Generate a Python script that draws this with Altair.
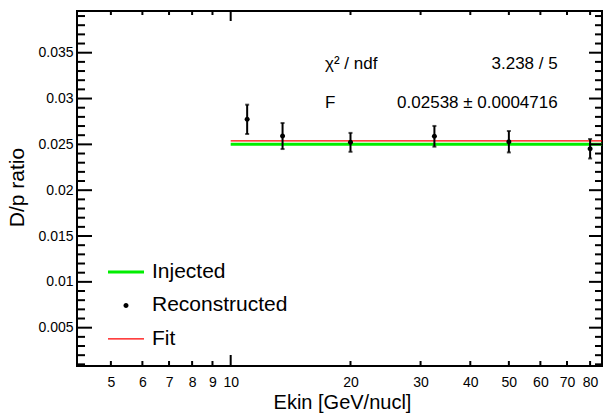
import altair as alt
import pandas as pd

# ---- data ----
ekin = [11.0, 13.5, 20.0, 32.5, 50.0, 80.0]
ratio = [0.02773, 0.02591, 0.02522, 0.02588, 0.02529, 0.02452]
err = [0.00160, 0.00142, 0.00103, 0.00113, 0.00117, 0.00106]

injected_value = 0.025
fit_value = 0.02538
fit_range = [10.0, 86.0]

series_names = ["Injected", "Reconstructed", "Fit"]
series_colors = ["#00ee00", "#000000", "#ff0000"]

stat_names = ["χ² / ndf", "F"]
stat_values = ["3.238 / 5", "0.02538 ± 0.0004716"]

x_labels = [5, 6, 7, 8, 9, 10, 20, 30, 40, 50, 60, 70, 80]
x_ticks_short = [5, 6, 7, 8, 9, 20, 30, 40, 50, 60, 70, 80]
x_ticks_long = [10]
y_major = [0.005, 0.01, 0.015, 0.02, 0.025, 0.03, 0.035]
y_minor = [0.001, 0.002, 0.003, 0.004, 0.006, 0.007, 0.008, 0.009,
           0.011, 0.012, 0.013, 0.014, 0.016, 0.017, 0.018, 0.019,
           0.021, 0.022, 0.023, 0.024, 0.026, 0.027, 0.028, 0.029,
           0.031, 0.032, 0.033, 0.034, 0.036, 0.037, 0.038, 0.039]

x_domain = [4.11, 85.7]
y_domain = [0.00082, 0.03955]

W, H = 525, 355
FONT = "Liberation Sans"

pts = pd.DataFrame({"ekin": ekin, "ratio": ratio, "err": err})
pts["lo"] = pts["ratio"] - pts["err"]
pts["hi"] = pts["ratio"] + pts["err"]
pts["series"] = "Reconstructed"

lines = pd.DataFrame({
    "x": [fit_range[0], fit_range[0]],
    "x2": [fit_range[1], fit_range[1]],
    "y": [injected_value, fit_value],
    "series": ["Injected", "Fit"],
})

xs = alt.Scale(type="log", domain=x_domain, nice=False)
ys = alt.Scale(domain=y_domain, nice=False, zero=False)

thick = "M-1.8,-0.15H1.8V0.15H-1.8Z"
thin = "M-1.8,-0.065H1.8V0.065H-1.8Z"
circ = "M0.25,0A0.25,0.25,0,1,1,-0.25,0A0.25,0.25,0,1,1,0.25,0Z"

x_axis = alt.Axis(values=x_labels, format="d", ticks=False, tickSize=0, domain=False,
                  grid=False, labelFontSize=14, labelPadding=9, labelFlush=False,
                  labelOverlap=False, labelBound=False, labelColor="black",
                  title="Ekin [GeV/nucl]", titleFontSize=20, titleFontWeight="normal",
                  titleColor="black", titleX=265, titleY=42, titleAlign="center",
                  titleBaseline="alphabetic", titleAnchor="middle")
y_axis = alt.Axis(values=y_major, format="~g", ticks=False, tickSize=0, domain=False,
                  grid=False, labelFontSize=14, labelPadding=4, labelColor="black",
                  labelFlush=False, labelOverlap=False,
                  title="D/p ratio", titleFontSize=21, titleFontWeight="normal",
                  titleColor="black", titleX=-54, titleY=176, titleAngle=-90,
                  titleAlign="center", titleBaseline="alphabetic")


def X(field):
    return alt.X(field, scale=xs, axis=x_axis)


def Y(field):
    return alt.Y(field, scale=ys, axis=y_axis)


base_pts = alt.Chart(pts)

inj = alt.Chart(lines[lines.series == "Injected"]).mark_rule(
    color="#00ee00", strokeWidth=3, clip=True
).encode(x=X("x:Q"), x2="x2:Q", y=Y("y:Q"))

fit = alt.Chart(lines[lines.series == "Fit"]).mark_rule(
    color="#ff0000", strokeWidth=1.3, clip=True
).encode(x=X("x:Q"), x2="x2:Q", y=Y("y:Q"))

ebar = base_pts.mark_rule(color="black", strokeWidth=2).encode(
    x=X("ekin:Q"), y=Y("lo:Q"), y2="hi:Q")

cap_lo = base_pts.mark_tick(color="black", orient="horizontal", size=4, thickness=2).encode(
    x=X("ekin:Q"), y=Y("lo:Q"))
cap_hi = base_pts.mark_tick(color="black", orient="horizontal", size=4, thickness=2).encode(
    x=X("ekin:Q"), y=Y("hi:Q"))

legend = alt.Legend(title=None, orient="none", legendX=38.5, legendY=250.5,
                    labelFontSize=21, labelFont=FONT, labelColor="black",
                    labelOffset=15.5, rowPadding=11.4, padding=0,
                    symbolSize=400, symbolStrokeWidth=0, symbolOpacity=1)

points = base_pts.mark_point(filled=True, opacity=1, size=400, strokeWidth=0).encode(
    x=X("ekin:Q"),
    y=Y("ratio:Q"),
    color=alt.Color("series:N", scale=alt.Scale(domain=series_names, range=series_colors),
                    legend=legend),
    shape=alt.Shape("series:N", scale=alt.Scale(domain=series_names, range=[thick, circ, thin]),
                    legend=legend),
)


# axis ticks drawn inward (ROOT style)
def tick_layer(vals, chan, p0, p1):
    df = pd.DataFrame({"v": vals})
    c = alt.Chart(df).mark_rule(color="black", strokeWidth=2)
    if chan == "x":
        return c.encode(x=X("v:Q"), y=alt.value(p0), y2=alt.value(p1))
    return c.encode(y=Y("v:Q"), x=alt.value(p0), x2=alt.value(p1))


ticks = [
    tick_layer(x_ticks_short, "x", H, H - 5),
    tick_layer(x_ticks_long, "x", H, H - 11),
    tick_layer(x_ticks_short, "x", 0, 4),
    tick_layer(x_ticks_long, "x", 0, 10),
    tick_layer(y_major, "y", 0, 15),
    tick_layer(y_minor, "y", 0, 8),
    tick_layer(y_major, "y", W, W - 13),
    tick_layer(y_minor, "y", W, W - 7),
]


def stat_text(txt, px, py, align):
    return alt.Chart(pd.DataFrame({"t": [txt]})).mark_text(
        align=align, baseline="alphabetic", fontSize=17, font=FONT, color="black"
    ).encode(text="t:N", x=alt.value(px), y=alt.value(py))


stats = [
    stat_text(stat_names[0], 248, 58, "left"),
    stat_text(stat_values[0], 480.7, 58, "right"),
    stat_text(stat_names[1], 248, 97, "left"),
    stat_text(stat_values[1], 480.7, 97, "right"),
]

chart = alt.layer(inj, fit, ebar, cap_lo, cap_hi, points, *ticks, *stats).properties(
    width=W, height=H,
    padding={"left": 77, "top": 11, "right": 1, "bottom": 47},
    autosize=alt.AutoSizeParams(type="none"),
    background="white",
).configure(font=FONT).configure_view(stroke="black", strokeWidth=2)

chart.save("out.html", embed_options={"renderer": "svg", "actions": False})
